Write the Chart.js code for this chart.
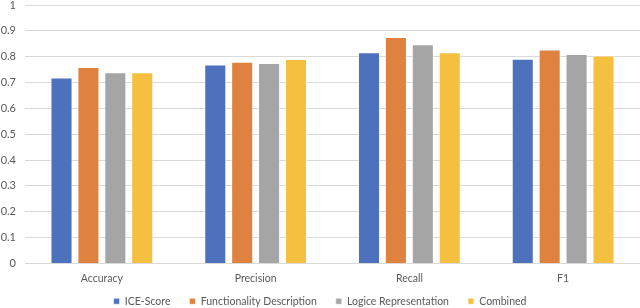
<!DOCTYPE html>
<html>
<head>
<meta charset="utf-8">
<script src="https://cdn.jsdelivr.net/npm/chart.js@4.4.0/dist/chart.umd.min.js"></script>
<style>
  html, body { margin: 0; padding: 0; background: #fff; }
  #wrap { width: 640px; height: 308px; }
</style>
</head>
<body>
<div id="wrap"><canvas id="chart"></canvas></div>
<script>
// metrics on the x axis
const categories = ['Accuracy', 'Precision', 'Recall', 'F1'];

// one array per method
const iceScore = [0.72, 0.77, 0.817, 0.792];
const funcDesc = [0.76, 0.78, 0.876, 0.828];
const logicRep = [0.74, 0.776, 0.848, 0.81];
const combined = [0.74, 0.791, 0.817, 0.805];

const yTicks = ['0', '0.1', '0.2', '0.3', '0.4', '0.5', '0.6', '0.7', '0.8', '0.9', '1'];

const FONT = { family: 'Lato', size: 10 };

const mkSet = (label, data, color) => ({
  label: label,
  data: data,
  backgroundColor: color,
  borderColor: 'rgba(255,255,255,0.6)',
  borderWidth: 1,
  barPercentage: 0.82,
  categoryPercentage: 0.7
});

// legend sits closer to the axis labels than chart.js would put it
const legendNudge = {
  id: 'legendNudge',
  afterLayout(chart) {
    const lg = chart.legend;
    const dy = 277 - lg.top;
    lg.top += dy;
    lg.bottom += dy;
  }
};

new Chart(document.getElementById('chart'), {
  type: 'bar',
  data: {
    labels: categories,
    datasets: [
      mkSet('ICE-Score', iceScore, '#4e71be'),
      mkSet('Functionality Description', funcDesc, '#e0823f'),
      mkSet('Logice Representation', logicRep, '#a5a5a5'),
      mkSet('Combined', combined, '#f5c040')
    ]
  },
  plugins: [legendNudge],
  options: {
    responsive: true,
    maintainAspectRatio: false,
    animation: false,
    layout: { padding: { top: 5, right: 0, left: 0, bottom: -19 } },
    plugins: {
      legend: {
        position: 'bottom',
        labels: {
          color: '#595959',
          font: { family: 'Lato', size: 10.5 },
          boxWidth: 6,
          boxHeight: 6,
          padding: 19
        }
      },
      tooltip: { enabled: false }
    },
    scales: {
      x: {
        grid: { display: false, drawTicks: false },
        border: { display: true, color: '#d9d9d9' },
        afterFit: (s) => { s.height = 24; },
        ticks: { color: '#595959', font: { family: 'Lato', size: 10.5 }, padding: 9 }
      },
      y: {
        min: 0,
        max: 1,
        grid: { color: '#d9d9d9', drawTicks: false },
        border: { display: false },
        afterFit: (s) => { s.width = 25; s.paddingTop = 5; s.paddingBottom = 0; },
        ticks: {
          stepSize: 0.1,
          color: '#595959',
          font: { family: 'Lato', size: 11 },
          padding: 9,
          callback: (v, i) => yTicks[i]
        }
      }
    }
  }
});
</script>
</body>
</html>
